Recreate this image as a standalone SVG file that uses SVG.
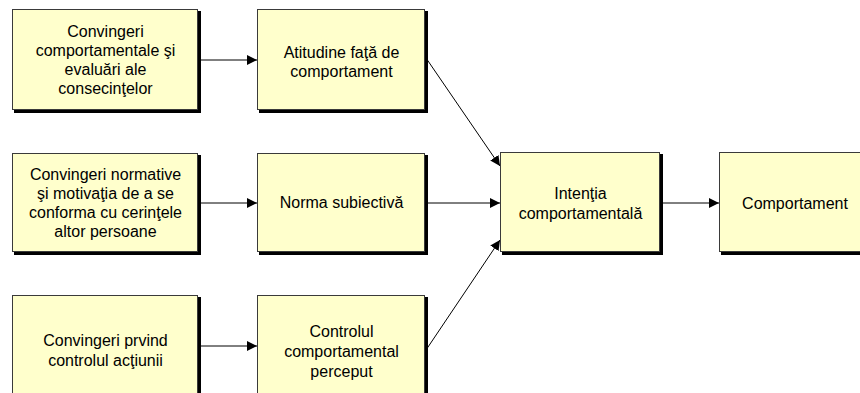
<svg xmlns="http://www.w3.org/2000/svg" width="860" height="393" viewBox="0 0 860 393">
<defs>
<style>
.sh{fill:#000}
.bx{fill:#FFFFCC;stroke:#3a3a3a;stroke-width:1}
.t{font-family:"Liberation Sans",Arial,sans-serif;font-size:16px;fill:#000;text-anchor:middle}
.c{stroke:#000;stroke-width:1;fill:none;marker-end:url(#ah)}
</style>
<marker id="ah" markerWidth="10" markerHeight="10" refX="10" refY="5" orient="auto" markerUnits="userSpaceOnUse">
<path d="M0,0 L10,5 L0,10 Z" fill="#000"/>
</marker>
</defs>
<rect width="860" height="393" fill="#fff"/>
<g id="connectors">
<line class="c" x1="199" y1="60" x2="257" y2="60"/>
<line class="c" x1="199" y1="203" x2="257" y2="203"/>
<line class="c" x1="199" y1="346" x2="257" y2="346"/>
<line class="c" x1="426" y1="58" x2="500" y2="166"/>
<line class="c" x1="426" y1="203" x2="500" y2="203"/>
<line class="c" x1="426" y1="350" x2="500" y2="240"/>
<line class="c" x1="661" y1="203" x2="719" y2="203"/>
</g>
<g id="n1">
<rect class="sh" x="14" y="11" width="187" height="102"/>
<rect class="bx" x="12.5" y="9.5" width="185" height="100"/>
<text class="t" x="105.5" y="37">Convingeri</text>
<text class="t" x="105.5" y="56">comportamentale şi</text>
<text class="t" x="105.5" y="75">evaluări ale</text>
<text class="t" x="105.5" y="94">consecinţelor</text>
</g>
<g id="n2">
<rect class="sh" x="259" y="11" width="169" height="102"/>
<rect class="bx" x="257.5" y="9.5" width="167" height="100"/>
<text class="t" x="341.5" y="58">Atitudine faţă de</text>
<text class="t" x="341.5" y="77">comportament</text>
</g>
<g id="n3">
<rect class="sh" x="14" y="155" width="187" height="100"/>
<rect class="bx" x="12.5" y="153.5" width="185" height="98"/>
<text class="t" x="105.5" y="180">Convingeri normative</text>
<text class="t" x="105.5" y="199">şi motivaţia de a se</text>
<text class="t" x="105.5" y="218">conforma cu cerinţele</text>
<text class="t" x="105.5" y="237">altor persoane</text>
</g>
<g id="n4">
<rect class="sh" x="259" y="155" width="169" height="100"/>
<rect class="bx" x="257.5" y="153.5" width="167" height="98"/>
<text class="t" x="341.5" y="208">Norma subiectivă</text>
</g>
<g id="n5">
<rect class="sh" x="14" y="297" width="187" height="110"/>
<rect class="bx" x="12.5" y="295.5" width="185" height="108"/>
<text class="t" x="105.5" y="346">Convingeri prvind</text>
<text class="t" x="105.5" y="366">controlul acţiunii</text>
</g>
<g id="n6">
<rect class="sh" x="259" y="297" width="169" height="110"/>
<rect class="bx" x="257.5" y="295.5" width="167" height="108"/>
<text class="t" x="341.5" y="337">Controlul</text>
<text class="t" x="341.5" y="357">comportamental</text>
<text class="t" x="341.5" y="377">perceput</text>
</g>
<g id="n7">
<rect class="sh" x="502" y="154" width="161" height="101"/>
<rect class="bx" x="500.5" y="152.5" width="159" height="99"/>
<text class="t" x="580.5" y="199">Intenţia</text>
<text class="t" x="580.5" y="219">comportamentală</text>
</g>
<g id="n8">
<rect class="sh" x="721" y="154" width="160" height="101"/>
<rect class="bx" x="719.5" y="152.5" width="158" height="99"/>
<text class="t" x="795" y="209">Comportament</text>
</g>
</svg>
